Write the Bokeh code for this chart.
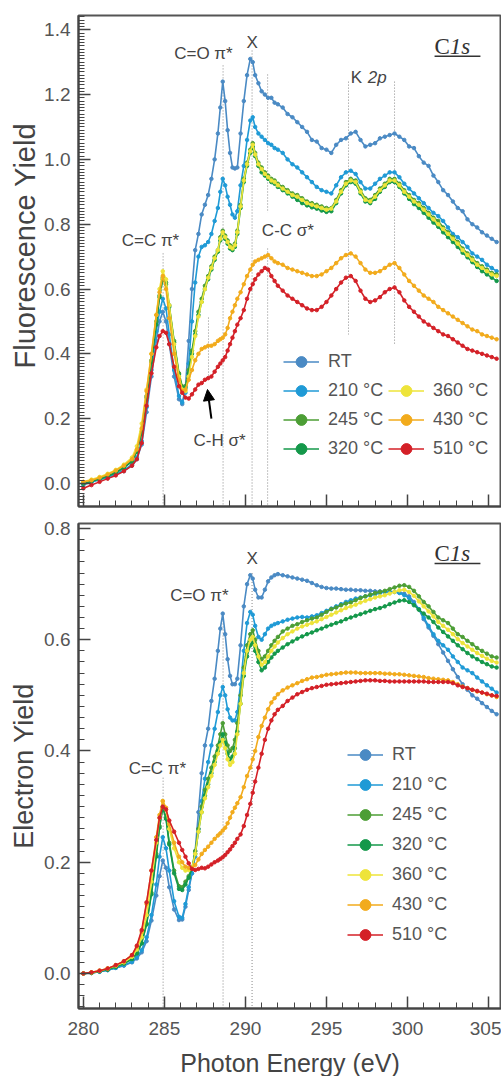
from bokeh.plotting import figure
from bokeh.models import (Range1d, SingleIntervalTicker, Label, Arrow, NormalHead, Title,
                          Legend, LegendItem, NumeralTickFormatter, CustomLabelingPolicy)
from bokeh.layouts import column
from bokeh.embed import file_html
from bokeh.resources import INLINE

# ---------------- data ----------------
energy = [280.0, 280.5, 281.0, 281.5, 282.0, 282.5, 283.0, 283.3, 283.6, 283.9,
          284.2, 284.5, 284.7, 284.9, 285.1, 285.3, 285.6, 285.9, 286.1, 286.3,
          286.5, 286.7, 286.9, 287.1, 287.3, 287.5, 287.7, 287.9, 288.1, 288.3,
          288.45, 288.6, 288.75, 288.9, 289.05, 289.2, 289.35, 289.5, 289.7, 289.9,
          290.1, 290.3, 290.45, 290.6, 290.8, 291.0, 291.2, 291.4, 291.6, 291.8,
          292.0, 292.3, 292.6, 292.9, 293.2, 293.5, 293.8, 294.1, 294.4, 294.7,
          295.0, 295.3, 295.6, 295.9, 296.2, 296.5, 296.8, 297.1, 297.4, 297.7,
          298.0, 298.3, 298.6, 298.9, 299.2, 299.5, 299.8, 300.1, 300.4, 300.7,
          301.0, 301.3, 301.6, 301.9, 302.2, 302.5, 302.8, 303.1, 303.4, 303.7,
          304.0, 304.3, 304.6, 304.9, 305.2, 305.5]

series_labels = ["RT", "210 °C", "245 °C", "320 °C", "360 °C", "430 °C", "510 °C"]

# Fluorescence yield (top panel)
fy_rt = [-0.005, 0.006, 0.012, 0.018, 0.03, 0.038, 0.055, 0.075, 0.12, 0.22,
         0.33, 0.44, 0.50, 0.53, 0.50, 0.43, 0.33, 0.26, 0.245, 0.30,
         0.44, 0.60, 0.72, 0.77, 0.83, 0.86, 0.89, 0.94, 1.00, 1.08,
         1.16, 1.24, 1.18, 1.09, 1.02, 0.975, 0.972, 0.975, 1.08, 1.18,
         1.26, 1.31, 1.30, 1.26, 1.235, 1.21, 1.20, 1.19, 1.19, 1.175,
         1.17, 1.16, 1.14, 1.13, 1.115, 1.10, 1.085, 1.06, 1.055, 1.035,
         1.03, 1.02, 1.045, 1.06, 1.065, 1.08, 1.085, 1.06, 1.04, 1.045,
         1.05, 1.065, 1.07, 1.075, 1.08, 1.07, 1.06, 1.04, 1.035, 1.01,
         0.99, 0.98, 0.95, 0.93, 0.905, 0.89, 0.87, 0.85, 0.84, 0.815,
         0.80, 0.79, 0.775, 0.765, 0.755, 0.745]
fy_210 = [0.0, 0.004, 0.012, 0.02, 0.028, 0.042, 0.058, 0.08, 0.13, 0.235,
          0.35, 0.47, 0.53, 0.57, 0.54, 0.46, 0.35, 0.27, 0.25, 0.28,
          0.37, 0.50, 0.62, 0.70, 0.73, 0.735, 0.745, 0.77, 0.81, 0.85,
          0.90, 0.94, 0.92, 0.885, 0.86, 0.83, 0.82, 0.84, 0.92, 0.98,
          1.06, 1.12, 1.13, 1.10, 1.08, 1.07, 1.06, 1.05, 1.045, 1.035,
          1.03, 1.02, 1.0, 0.985, 0.975, 0.96, 0.945, 0.93, 0.915, 0.905,
          0.90, 0.895, 0.92, 0.945, 0.96, 0.965, 0.955, 0.93, 0.91, 0.91,
          0.925, 0.94, 0.95, 0.96, 0.96, 0.945, 0.925, 0.91, 0.895, 0.88,
          0.865, 0.85, 0.835, 0.825, 0.81, 0.79, 0.77, 0.76, 0.745, 0.73,
          0.71, 0.70, 0.69, 0.675, 0.665, 0.655]
fy_245 = [0.0, 0.008, 0.015, 0.024, 0.035, 0.05, 0.07, 0.10, 0.16, 0.27,
          0.38, 0.50, 0.58, 0.635, 0.62, 0.55, 0.44, 0.34, 0.30, 0.30,
          0.35, 0.41, 0.47, 0.53, 0.57, 0.61, 0.64, 0.67, 0.70, 0.72,
          0.76, 0.78, 0.765, 0.75, 0.735, 0.73, 0.74, 0.78, 0.86, 0.94,
          0.99, 1.03, 1.05, 1.02, 0.99, 0.975, 0.96, 0.95, 0.94, 0.935,
          0.925, 0.915, 0.905, 0.895, 0.89, 0.88, 0.87, 0.865, 0.86, 0.855,
          0.85, 0.85, 0.875, 0.905, 0.93, 0.94, 0.935, 0.905, 0.88, 0.875,
          0.89, 0.91, 0.925, 0.94, 0.94, 0.925, 0.905, 0.89, 0.875, 0.865,
          0.85, 0.835, 0.82, 0.81, 0.79, 0.775, 0.76, 0.745, 0.725, 0.71,
          0.695, 0.68, 0.67, 0.66, 0.65, 0.645]
fy_320 = [0.0, 0.007, 0.014, 0.022, 0.033, 0.048, 0.068, 0.098, 0.155, 0.265,
          0.375, 0.49, 0.575, 0.63, 0.615, 0.545, 0.435, 0.335, 0.295, 0.295,
          0.34, 0.40, 0.46, 0.52, 0.56, 0.60, 0.63, 0.66, 0.69, 0.715,
          0.75, 0.77, 0.755, 0.74, 0.725, 0.72, 0.73, 0.77, 0.85, 0.93,
          0.98, 1.02, 1.04, 1.01, 0.98, 0.96, 0.95, 0.94, 0.93, 0.925,
          0.915, 0.905, 0.895, 0.885, 0.875, 0.865, 0.858, 0.852, 0.848, 0.842,
          0.838, 0.84, 0.865, 0.895, 0.92, 0.93, 0.925, 0.895, 0.87, 0.865,
          0.878, 0.9, 0.915, 0.93, 0.93, 0.915, 0.895, 0.878, 0.862, 0.85,
          0.835, 0.82, 0.805, 0.792, 0.775, 0.76, 0.745, 0.73, 0.712, 0.698,
          0.683, 0.668, 0.655, 0.645, 0.635, 0.625]
fy_360 = [0.005, 0.012, 0.02, 0.03, 0.042, 0.058, 0.08, 0.115, 0.185, 0.29,
          0.40, 0.52, 0.60, 0.655, 0.63, 0.55, 0.43, 0.33, 0.29, 0.285,
          0.33, 0.39, 0.455, 0.515, 0.56, 0.60, 0.635, 0.665, 0.695, 0.72,
          0.755, 0.775, 0.76, 0.745, 0.73, 0.725, 0.735, 0.775, 0.855, 0.935,
          0.985, 1.025, 1.045, 1.015, 0.985, 0.97, 0.955, 0.945, 0.935, 0.93,
          0.92, 0.91, 0.9, 0.89, 0.885, 0.875, 0.865, 0.86, 0.855, 0.85,
          0.845, 0.848, 0.87, 0.9, 0.925, 0.935, 0.93, 0.9, 0.875, 0.87,
          0.885, 0.905, 0.92, 0.935, 0.935, 0.92, 0.9, 0.885, 0.87, 0.86,
          0.845, 0.83, 0.815, 0.8, 0.785, 0.77, 0.755, 0.74, 0.72, 0.705,
          0.69, 0.675, 0.665, 0.655, 0.645, 0.64]
fy_430 = [0.005, 0.01, 0.018, 0.028, 0.04, 0.055, 0.075, 0.105, 0.17, 0.285,
          0.40, 0.52, 0.59, 0.64, 0.60, 0.51, 0.40, 0.32, 0.285, 0.29,
          0.32, 0.35, 0.38, 0.40, 0.415, 0.42, 0.425, 0.425, 0.43, 0.44,
          0.445, 0.45, 0.46, 0.48, 0.51, 0.53, 0.55, 0.57, 0.59, 0.615,
          0.64, 0.66, 0.675, 0.685, 0.69, 0.695, 0.70, 0.705, 0.695, 0.685,
          0.68, 0.675, 0.665, 0.66, 0.655, 0.65, 0.645, 0.64, 0.64, 0.645,
          0.655, 0.665, 0.68, 0.695, 0.705, 0.71, 0.70, 0.68, 0.66, 0.65,
          0.65, 0.655, 0.665, 0.675, 0.68, 0.665, 0.645, 0.625, 0.61, 0.595,
          0.58, 0.57, 0.56, 0.545, 0.535, 0.525, 0.515, 0.505, 0.495, 0.485,
          0.475, 0.47, 0.46, 0.455, 0.45, 0.445]
fy_510 = [-0.015, -0.005, 0.005, 0.015, 0.025, 0.038, 0.055, 0.075, 0.125, 0.24,
          0.34, 0.42, 0.455, 0.47, 0.465, 0.43, 0.36, 0.30, 0.28, 0.265,
          0.262, 0.275, 0.29, 0.305, 0.31, 0.32, 0.325, 0.33, 0.345, 0.36,
          0.37, 0.38, 0.39, 0.41, 0.43, 0.45, 0.47, 0.49, 0.51, 0.535,
          0.57, 0.60, 0.615, 0.63, 0.645, 0.655, 0.665, 0.66, 0.64, 0.625,
          0.61, 0.595, 0.58, 0.57, 0.56, 0.55, 0.54, 0.535, 0.535, 0.545,
          0.56, 0.58, 0.60, 0.62, 0.635, 0.64, 0.625, 0.595, 0.57, 0.56,
          0.565, 0.575, 0.59, 0.60, 0.605, 0.59, 0.565, 0.545, 0.53, 0.515,
          0.50, 0.49, 0.48, 0.47, 0.46, 0.455, 0.445, 0.435, 0.425, 0.415,
          0.41, 0.405, 0.40, 0.395, 0.39, 0.385]

# Electron yield (bottom panel)
ey_rt = [0.0, 0.001, 0.003, 0.006, 0.01, 0.014, 0.02, 0.027, 0.038, 0.058,
         0.095, 0.14, 0.175, 0.203, 0.19, 0.155, 0.115, 0.096, 0.097, 0.12,
         0.15, 0.18, 0.22, 0.29, 0.36, 0.41, 0.44, 0.49, 0.53, 0.58,
         0.62, 0.647, 0.61, 0.565, 0.535, 0.52, 0.52, 0.53, 0.59, 0.66,
         0.70, 0.716, 0.71, 0.69, 0.676, 0.676, 0.69, 0.705, 0.712, 0.716,
         0.718, 0.716, 0.714, 0.712, 0.71, 0.708, 0.706, 0.702, 0.698, 0.695,
         0.693, 0.692, 0.692, 0.691, 0.69, 0.69, 0.689, 0.689, 0.688, 0.688,
         0.687, 0.687, 0.686, 0.686, 0.686, 0.685, 0.683, 0.678, 0.668, 0.655,
         0.637, 0.622, 0.607, 0.592, 0.577, 0.562, 0.547, 0.533, 0.52, 0.51,
         0.50, 0.494, 0.486, 0.479, 0.472, 0.466]
ey_210 = [0.0, 0.001, 0.003, 0.006, 0.01, 0.015, 0.021, 0.029, 0.042, 0.065,
          0.105, 0.16, 0.21, 0.245, 0.225, 0.185, 0.13, 0.102, 0.10, 0.125,
          0.155, 0.18, 0.21, 0.26, 0.31, 0.35, 0.38, 0.41, 0.44, 0.47,
          0.50, 0.515, 0.50, 0.475, 0.46, 0.455, 0.455, 0.47, 0.52, 0.58,
          0.63, 0.65, 0.645, 0.625, 0.605, 0.60, 0.61, 0.62, 0.625, 0.628,
          0.63, 0.633, 0.636, 0.638, 0.64, 0.641, 0.64, 0.642, 0.644, 0.648,
          0.652, 0.656, 0.66, 0.664, 0.668, 0.671, 0.674, 0.676, 0.678, 0.68,
          0.682, 0.684, 0.686, 0.686, 0.686, 0.684, 0.68, 0.675, 0.665, 0.655,
          0.64, 0.625, 0.61, 0.598, 0.59, 0.582, 0.57, 0.56, 0.55, 0.545,
          0.54, 0.532, 0.525, 0.518, 0.512, 0.505]
ey_245 = [0.0, 0.001, 0.004, 0.007, 0.012, 0.018, 0.026, 0.037, 0.055, 0.09,
          0.145, 0.215, 0.265, 0.30, 0.28, 0.235, 0.185, 0.157, 0.155, 0.165,
          0.175, 0.19, 0.22, 0.26, 0.30, 0.33, 0.35, 0.37, 0.39, 0.41,
          0.43, 0.45, 0.43, 0.41, 0.40, 0.405, 0.42, 0.45, 0.50, 0.55,
          0.59, 0.61, 0.617, 0.60, 0.58, 0.565, 0.57, 0.58, 0.59, 0.598,
          0.605, 0.615, 0.62, 0.625, 0.628, 0.632, 0.635, 0.638, 0.64, 0.645,
          0.65, 0.655, 0.658, 0.662, 0.665, 0.667, 0.671, 0.675, 0.678, 0.681,
          0.684, 0.686, 0.688, 0.691, 0.694, 0.697, 0.698, 0.695, 0.688, 0.678,
          0.668, 0.66, 0.65, 0.64, 0.635, 0.63, 0.62, 0.61, 0.605, 0.598,
          0.592, 0.585, 0.58, 0.575, 0.57, 0.568]
ey_320 = [0.0, 0.001, 0.004, 0.007, 0.012, 0.018, 0.026, 0.036, 0.054, 0.088,
          0.142, 0.21, 0.262, 0.298, 0.278, 0.232, 0.18, 0.152, 0.15, 0.16,
          0.172, 0.188, 0.215, 0.255, 0.29, 0.32, 0.34, 0.36, 0.38, 0.40,
          0.415, 0.43, 0.415, 0.395, 0.385, 0.39, 0.405, 0.435, 0.485, 0.535,
          0.57, 0.59, 0.595, 0.58, 0.56, 0.545, 0.55, 0.56, 0.568, 0.575,
          0.58, 0.586, 0.592, 0.597, 0.602, 0.606, 0.61, 0.613, 0.617, 0.62,
          0.624, 0.627, 0.63, 0.633, 0.637, 0.64, 0.643, 0.646, 0.649, 0.652,
          0.655, 0.657, 0.66, 0.664, 0.667, 0.67, 0.671, 0.668, 0.662, 0.654,
          0.647, 0.64, 0.632, 0.622, 0.614, 0.606, 0.598, 0.59, 0.583, 0.576,
          0.57, 0.565, 0.56, 0.556, 0.552, 0.55]
ey_360 = [0.0, 0.002, 0.005, 0.009, 0.014, 0.02, 0.03, 0.043, 0.065, 0.105,
          0.165, 0.235, 0.28, 0.31, 0.295, 0.26, 0.225, 0.2, 0.19, 0.185,
          0.186, 0.19, 0.215, 0.255, 0.29, 0.315, 0.335, 0.355, 0.375, 0.395,
          0.41, 0.42, 0.405, 0.385, 0.375, 0.38, 0.395, 0.43, 0.485, 0.54,
          0.58, 0.60, 0.605, 0.59, 0.57, 0.555, 0.56, 0.57, 0.58, 0.588,
          0.595, 0.603, 0.61, 0.615, 0.62, 0.624, 0.627, 0.63, 0.633, 0.637,
          0.641, 0.645, 0.649, 0.653, 0.657, 0.66, 0.663, 0.667, 0.67, 0.673,
          0.676, 0.678, 0.68, 0.683, 0.686, 0.689, 0.69, 0.686, 0.679, 0.669,
          0.66, 0.651, 0.642, 0.632, 0.625, 0.618, 0.61, 0.601, 0.594, 0.588,
          0.582, 0.576, 0.571, 0.566, 0.562, 0.559]
ey_430 = [0.0, 0.002, 0.005, 0.009, 0.015, 0.022, 0.033, 0.048, 0.075, 0.125,
          0.185, 0.245, 0.285, 0.31, 0.298, 0.268, 0.235, 0.21, 0.2, 0.192,
          0.19, 0.19, 0.195, 0.205, 0.215, 0.222, 0.228, 0.235, 0.242, 0.248,
          0.252, 0.257, 0.262, 0.27, 0.28, 0.29, 0.298, 0.306, 0.317, 0.335,
          0.355, 0.37, 0.385, 0.40, 0.425, 0.445, 0.46, 0.475, 0.487, 0.495,
          0.502, 0.509, 0.514, 0.518, 0.522, 0.526, 0.529, 0.532, 0.533, 0.535,
          0.537, 0.538, 0.539, 0.54, 0.541, 0.541, 0.541, 0.54, 0.54, 0.54,
          0.54, 0.54, 0.539, 0.539, 0.538, 0.538, 0.537, 0.536, 0.535, 0.534,
          0.533, 0.531, 0.53, 0.529, 0.528, 0.527, 0.524, 0.52, 0.516, 0.513,
          0.51, 0.507, 0.505, 0.502, 0.5, 0.497]
ey_510 = [0.0, 0.002, 0.005, 0.009, 0.015, 0.022, 0.033, 0.05, 0.078, 0.128,
          0.185, 0.24, 0.28, 0.30, 0.295, 0.275, 0.255, 0.235, 0.222, 0.21,
          0.198, 0.188, 0.186, 0.188, 0.19, 0.189, 0.192, 0.196, 0.2, 0.203,
          0.206, 0.209, 0.213, 0.218, 0.223, 0.229, 0.235, 0.242, 0.25, 0.265,
          0.285, 0.305, 0.325, 0.345, 0.37, 0.395, 0.42, 0.44, 0.455, 0.466,
          0.474, 0.481, 0.49, 0.496, 0.502, 0.506, 0.51, 0.513, 0.515, 0.517,
          0.519, 0.52, 0.521, 0.522, 0.523, 0.524, 0.525, 0.526, 0.527, 0.527,
          0.527, 0.526, 0.526, 0.525, 0.525, 0.525, 0.525, 0.525, 0.525, 0.525,
          0.525, 0.524, 0.524, 0.524, 0.524, 0.524, 0.522, 0.518, 0.515, 0.513,
          0.51, 0.508, 0.505, 0.503, 0.5, 0.499]

fy_series = [fy_rt, fy_210, fy_245, fy_320, fy_360, fy_430, fy_510]
ey_series = [ey_rt, ey_210, ey_245, ey_320, ey_360, ey_430, ey_510]

# ---------------- styles ----------------
colors = ["#4a8ac4", "#1f9ad6", "#4c9e35", "#14984a", "#eee43a", "#f2ab1c", "#d42027"]
FONT = "Liberation Sans"
TXT = "#444444"


def style(p, ylabel, show_x):
    p.grid.visible = False
    p.outline_line_color = "#555555"
    p.outline_line_width = 2
    p.background_fill_color = "white"
    p.border_fill_color = "white"
    xa, ya = p.xaxis[0], p.yaxis[0]
    xa.ticker = SingleIntervalTicker(interval=5, num_minor_ticks=5)
    for ax in (xa, ya):
        ax.axis_line_color = "#444444"
        ax.axis_line_width = 2
        ax.major_tick_line_color = "#444444"
        ax.major_tick_line_width = 1.5
        ax.minor_tick_line_color = "#444444"
        ax.minor_tick_line_width = 1
        ax.major_tick_out = 0
        ax.minor_tick_out = 0
        ax.major_tick_in = 12
        ax.minor_tick_in = 6
        ax.major_label_text_font = FONT
        ax.major_label_text_font_size = "19px"
        ax.major_label_text_color = "#555555"
        ax.axis_label_text_font = FONT
        ax.axis_label_text_font_style = "normal"
        ax.axis_label_text_color = TXT
    ya.major_label_standoff = 8
    ya.formatter = NumeralTickFormatter(format="0.0")
    if ylabel:
        ya.axis_label = ylabel
        ya.axis_label_text_font_size = "27px"
        ya.axis_label_standoff = 2
    if show_x:
        xa.major_label_standoff = 13
        xa.axis_label = "Photon Energy (eV)"
        xa.axis_label_text_font_size = "25px"
        xa.axis_label_standoff = 11
    else:
        # ticks only, no tick labels on the upper panel
        xa.major_label_policy = CustomLabelingPolicy(code="return new Set()")
        xa.major_label_text_font_size = "0px"
        xa.major_label_standoff = 0


def add_text(p, x, y, text, size="17px", align="center", style_="normal", font=FONT, color=TXT):
    p.add_layout(Label(x=x, y=y, text=text, text_font=font, text_font_size=size,
                       text_color=color, text_align=align, text_baseline="middle",
                       text_font_style=style_))


def draw_series(p, ys_list):
    rends = []
    for ys, c in zip(ys_list, colors):
        r1 = p.line(energy, ys, line_color=c, line_width=1.6)
        r2 = p.scatter(energy, ys, size=3.5, fill_color=c, line_color=c, marker="circle")
        rends.append([r1, r2])
    return rends


def make_legend(p, rends, idx, loc, spacing):
    items = [LegendItem(label=series_labels[i], renderers=rends[i]) for i in idx]
    lg = Legend(items=items, location=loc, padding=0, margin=0, spacing=spacing,
                border_line_color=None, background_fill_alpha=0,
                glyph_width=36, glyph_height=27, label_height=27, label_standoff=9,
                label_text_font=FONT, label_text_font_size="18px", label_text_color="#555555")
    p.add_layout(lg)


# ---------------- top panel ----------------
p1 = figure(frame_width=423, frame_height=491, x_range=Range1d(279.7, 305.8),
            y_range=Range1d(-0.071, 1.444), output_backend="svg", toolbar_location=None,
            min_border_left=78, min_border_right=0, min_border_top=15, min_border_bottom=9)
style(p1, None, False)
p1.yaxis[0].ticker = SingleIntervalTicker(interval=0.2, num_minor_ticks=20)
# y title of the upper panel: sits a little above the panel's middle, as in the original
p1.add_layout(Title(text="Fluorescence Yield", align="left", offset=138, standoff=2,
                    text_font=FONT, text_font_size="29px", text_font_style="normal",
                    text_color=TXT), "left")

p1.segment(x0=[284.92, 288.62, 290.41, 291.37, 291.37, 296.36, 299.2, 287.72],
           y0=[0.71, 1.29, 1.336, 1.262, 0.725, 1.24, 1.24, 0.512],
           x1=[284.92, 288.62, 290.41, 291.37, 291.37, 296.36, 299.2, 287.72],
           y1=[-0.071, -0.071, -0.071, 0.836, -0.071, 0.46, 0.43, 0.318],
           line_color="#888888", line_width=1, line_dash="1 2")

r_top = draw_series(p1, fy_series)
make_legend(p1, r_top, [0, 1, 2, 3], (205, 44), 2)
make_legend(p1, r_top, [4, 5, 6], (310, 44), 2)

add_text(p1, 287.41, 1.327, "C=O π*")
add_text(p1, 290.41, 1.361, "X")
add_text(p1, 284.14, 0.75, "C=C π*")
add_text(p1, 292.62, 0.781, "C-C σ*")
add_text(p1, 288.4, 0.133, "C-H σ*")
add_text(p1, 296.5, 1.253, "K", align="left")
add_text(p1, 297.55, 1.253, "2p", align="left", style_="italic")
add_text(p1, 301.67, 1.349, "C", size="23px", align="left", font="Liberation Serif", color="#333333")
add_text(p1, 302.6, 1.349, "1s", size="23px", align="left", style_="italic",
         font="Liberation Serif", color="#333333")
p1.segment(x0=[301.67], y0=[1.318], x1=[304.5], y1=[1.318], line_color="#333333", line_width=1.5)
p1.add_layout(Arrow(end=NormalHead(size=11, fill_color="black", line_color="black"),
                    x_start=287.9, y_start=0.2, x_end=287.66, y_end=0.29,
                    line_color="black", line_width=2))

# ---------------- bottom panel ----------------
p2 = figure(frame_width=423, frame_height=485, x_range=Range1d(279.7, 305.8),
            y_range=Range1d(-0.063, 0.809), output_backend="svg", toolbar_location=None,
            min_border_left=78, min_border_right=0, min_border_top=8, min_border_bottom=0)
style(p2, "Electron Yield", True)
p2.yaxis[0].ticker = SingleIntervalTicker(interval=0.2, num_minor_ticks=10)

p2.segment(x0=[284.92, 288.62, 290.41], y0=[0.352, 0.64, 0.72],
           x1=[284.92, 288.62, 290.41], y1=[-0.063, -0.063, -0.063],
           line_color="#888888", line_width=1, line_dash="1 2")

r_bot = draw_series(p2, ey_series)
make_legend(p2, r_bot, [0, 1, 2, 3, 4, 5, 6], (269, 60), 3)

add_text(p2, 287.16, 0.68, "C=O π*")
add_text(p2, 290.41, 0.746, "X")
add_text(p2, 284.57, 0.369, "C=C π*")
add_text(p2, 301.67, 0.755, "C", size="23px", align="left", font="Liberation Serif", color="#333333")
add_text(p2, 302.6, 0.755, "1s", size="23px", align="left", style_="italic",
         font="Liberation Serif", color="#333333")
p2.segment(x0=[301.67], y0=[0.737], x1=[304.5], y1=[0.737], line_color="#333333", line_width=1.5)

layout = column(p1, p2, spacing=0)
open("out.html", "w").write(file_html(layout, INLINE))
